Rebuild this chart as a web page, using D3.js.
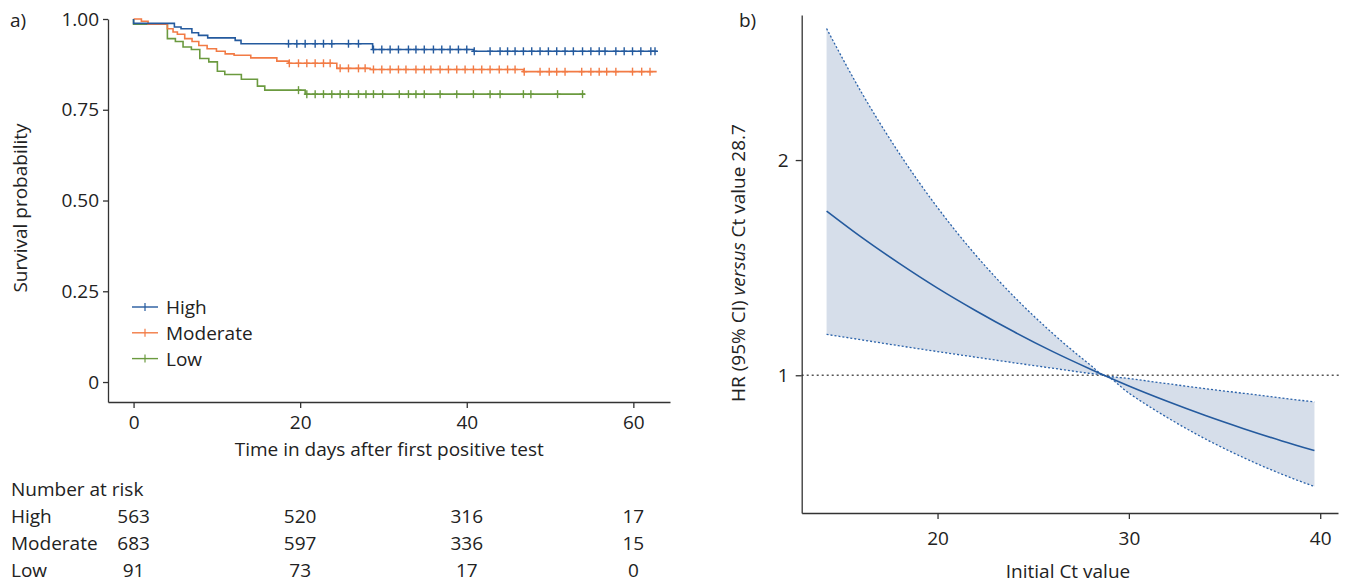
<!DOCTYPE html>
<html>
<head>
<meta charset="utf-8">
<script src="https://d3js.org/d3.v7.min.js"></script>
<style>
  body { margin: 0; background: #fff; }
  svg text { font-family: "Open Sans", "Noto Sans", sans-serif; fill: #222; }
</style>
</head>
<body>
<div id="chart"></div>
<script>
// a) Kaplan-Meier steps (time in days, survival after the step)
const highTimes = [0, 4.9, 5.7, 7.0, 7.8, 8.9, 12.2, 12.9, 28.7, 40.8];
const highSurv = [0.988, 0.978, 0.973, 0.962, 0.955, 0.948, 0.941, 0.932, 0.916, 0.911];
const highEnd = 62.9;
const highCensor = [18.6, 19.6, 20.6, 21.8, 22.8, 23.8, 25.8, 27.0, 28.8, 29.8, 30.8, 31.8, 33.0, 33.9,
  34.9, 36.0, 37.0, 38.0, 39.0, 40.0, 40.9, 42.8, 44.0, 44.9, 45.8, 46.8, 47.8, 48.8, 49.8, 50.8,
  51.8, 52.8, 53.9, 54.9, 55.9, 56.6, 57.9, 58.9, 59.9, 60.9, 62.1, 62.6];

const modTimes = [0.94, 1.74, 4.06, 4.74, 5.26, 6.14, 7.02, 7.83, 8.83, 9.95, 11.0, 12.07, 14.07, 17.2, 18.6, 24.4, 28.4, 46.8];
const modSurv = [0.994, 0.986, 0.973, 0.964, 0.958, 0.946, 0.938, 0.927, 0.918, 0.911, 0.904, 0.900, 0.893, 0.884, 0.878, 0.864, 0.861, 0.855];
const modEnd = 62.8;
const modCensor = [18.7, 19.8, 20.8, 21.8, 22.8, 23.6, 24.8, 25.8, 27.0, 27.8, 28.8, 29.8, 30.8, 31.8,
  32.7, 33.9, 34.9, 35.7, 36.8, 37.8, 38.8, 39.8, 40.8, 41.8, 42.8, 43.9, 44.9, 45.8, 46.9, 48.8,
  49.9, 50.8, 51.8, 53.8, 54.9, 55.9, 56.8, 57.9, 59.9, 61.0, 62.0];

const lowTimes = [0, 4.06, 5.02, 5.94, 6.94, 7.95, 9.03, 10.06, 10.95, 12.94, 14.87, 15.75, 20.6];
const lowSurv = [0.986, 0.946, 0.938, 0.923, 0.916, 0.891, 0.882, 0.856, 0.847, 0.834, 0.815, 0.804, 0.793];
const lowEnd = 54.2;
const lowCensor = [19.8, 20.8, 21.8, 22.8, 23.8, 24.8, 25.8, 27.0, 27.9, 28.8, 29.9, 31.9, 33.0, 33.9,
  34.9, 36.8, 38.8, 40.8, 42.8, 44.0, 46.8, 47.7, 50.9, 53.9];

const groupNames = ['High', 'Moderate', 'Low'];
const groupColors = ['#245a9e', '#f27b45', '#6b9a3f'];

// Number at risk table
const riskTimes = [0, 20, 40, 60];
const riskHigh = [563, 520, 316, 17];
const riskModerate = [683, 597, 336, 15];
const riskLow = [91, 73, 17, 0];

const survTicks = [0, 0.25, 0.5, 0.75, 1];
const dayTicks = [0, 20, 40, 60];

// b) HR versus Ct value 28.7
const ctValues = [14.2, 16, 18, 20, 22, 24, 26, 28, 28.7, 30, 32, 34, 36, 38, 39.7];
const hrFit = [1.763, 1.643, 1.520, 1.405, 1.300, 1.202, 1.111, 1.028, 1, 0.950, 0.879, 0.813, 0.752, 0.695, 0.650];
const hrUpper = [2.611, 2.318, 2.031, 1.779, 1.558, 1.365, 1.196, 1.047, 1, 0.985, 0.961, 0.938, 0.916, 0.894, 0.876];
const hrLower = [1.190, 1.165, 1.137, 1.110, 1.084, 1.058, 1.033, 1.008, 1, 0.917, 0.804, 0.704, 0.617, 0.540, 0.483];
const hrTicks = [1, 2];
const ctTicks = [20, 30, 40];

const W = 1346, H = 583;
const svg = d3.select('#chart').append('svg').attr('width', W).attr('height', H);

const fs = 19;
const fontFam = '"Open Sans", "Noto Sans", sans-serif';

// ---------- panel a ----------
const xA = d3.scaleLinear().domain([-3.07, 64.4]).range([108, 670]);
const yA = d3.scaleLinear().domain([-0.055, 1]).range([402, 19]);

svg.append('text').attr('x', 10).attr('y', 27).attr('font-size', fs).text('a)');

const axA_y = svg.append('g').attr('transform', 'translate(108,0)')
  .call(d3.axisLeft(yA).tickValues(survTicks).tickSize(5).tickSizeOuter(0).tickPadding(4)
    .tickFormat(d => d === 0 ? '0' : d3.format('.2f')(d)));
const axA_x = svg.append('g').attr('transform', 'translate(0,402)')
  .call(d3.axisBottom(xA).tickValues(dayTicks).tickSize(6).tickSizeOuter(0).tickPadding(8));

[axA_y, axA_x].forEach(ax => {
  ax.selectAll('path, line').attr('stroke', '#333').attr('stroke-width', 1.3);
  ax.selectAll('text').attr('font-size', fs).attr('font-family', fontFam).attr('fill', '#222');
});

svg.append('text')
  .attr('transform', `translate(27, 208) rotate(-90)`)
  .attr('text-anchor', 'middle').attr('font-size', fs)
  .text('Survival probability');

svg.append('text')
  .attr('x', xA(30.7)).attr('y', 456)
  .attr('text-anchor', 'middle').attr('font-size', fs)
  .text('Time in days after first positive test');

const series = [
  { times: highTimes, surv: highSurv, end: highEnd, censor: highCensor },
  { times: modTimes, surv: modSurv, end: modEnd, censor: modCensor },
  { times: lowTimes, surv: lowSurv, end: lowEnd, censor: lowCensor }
];

const survAt = (s, t) => {
  let v = 1;
  s.times.forEach((tt, i) => { if (tt <= t) v = s.surv[i]; });
  return v;
};

// draw low first so high ends on top
[2, 1, 0].forEach(i => {
  const s = series[i];
  let d = `M${xA(0)},${yA(1)}`;
  s.times.forEach((t, j) => {
    d += `H${xA(t)}V${yA(s.surv[j])}`;
  });
  d += `H${xA(s.end)}`;
  svg.append('path').attr('d', d).attr('fill', 'none')
    .attr('stroke', groupColors[i]).attr('stroke-width', 1.6);

  const g = svg.append('g').attr('stroke', groupColors[i]).attr('stroke-width', 1.4);
  g.selectAll('line.v').data(s.censor).enter().append('line')
    .attr('x1', t => xA(t)).attr('x2', t => xA(t))
    .attr('y1', t => yA(survAt(s, t)) - 4).attr('y2', t => yA(survAt(s, t)) + 4);
  g.selectAll('line.h').data(s.censor).enter().append('line')
    .attr('x1', t => xA(t) - 3).attr('x2', t => xA(t) + 3)
    .attr('y1', t => yA(survAt(s, t))).attr('y2', t => yA(survAt(s, t)));
});

// legend
const legend = svg.append('g').attr('transform', 'translate(132, 307)');
groupNames.forEach((name, i) => {
  const row = legend.append('g').attr('transform', `translate(0, ${i * 25.8})`);
  row.append('line').attr('x1', 0).attr('x2', 26).attr('y1', 0).attr('y2', 0)
    .attr('stroke', groupColors[i]).attr('stroke-width', 1.4);
  row.append('line').attr('x1', 13).attr('x2', 13).attr('y1', -4).attr('y2', 4)
    .attr('stroke', groupColors[i]).attr('stroke-width', 1.2);
  row.append('text').attr('x', 34).attr('y', 7).attr('font-size', fs).text(name);
});

// risk table
svg.append('text').attr('x', 11).attr('y', 496).attr('font-size', fs).text('Number at risk');
const riskRows = [riskHigh, riskModerate, riskLow];
riskRows.forEach((vals, i) => {
  const y = 523 + i * 27;
  svg.append('text').attr('x', 11).attr('y', y).attr('font-size', fs).text(groupNames[i]);
  vals.forEach((v, j) => {
    svg.append('text').attr('x', xA(riskTimes[j])).attr('y', y)
      .attr('text-anchor', 'middle').attr('font-size', fs).text(v);
  });
});

// ---------- panel b ----------
const xB = d3.scaleLinear().domain([12.9, 40.93]).range([801.7, 1338]);
const yB = d3.scaleLinear().domain([0.36, 2.674]).range([513, 15]);

svg.append('text').attr('x', 739).attr('y', 27).attr('font-size', fs).text('b)');

const pts = ctValues.map((c, i) => ({ c, fit: hrFit[i], lo: hrLower[i], hi: hrUpper[i] }));

const band = d3.area()
  .x(d => xB(d.c)).y0(d => yB(d.lo)).y1(d => yB(d.hi))
  .curve(d3.curveMonotoneX);
svg.append('path').datum(pts).attr('d', band).attr('fill', '#d6deea');

svg.append('line')
  .attr('x1', 801.7).attr('x2', 1340).attr('y1', yB(1)).attr('y2', yB(1))
  .attr('stroke', '#555').attr('stroke-width', 1.3).attr('stroke-dasharray', '2,3');

const lineOf = key => d3.line().x(d => xB(d.c)).y(d => yB(d[key])).curve(d3.curveMonotoneX);
['lo', 'hi'].forEach(k => {
  svg.append('path').datum(pts).attr('d', lineOf(k)).attr('fill', 'none')
    .attr('stroke', '#2a62aa').attr('stroke-width', 1.3).attr('stroke-dasharray', '2,2');
});
svg.append('path').datum(pts).attr('d', lineOf('fit')).attr('fill', 'none')
  .attr('stroke', '#245a9e').attr('stroke-width', 1.6);

const axB_y = svg.append('g').attr('transform', 'translate(801.7,0)')
  .call(d3.axisLeft(yB).tickValues(hrTicks).tickSize(6).tickSizeOuter(0).tickPadding(7).tickFormat(d3.format('d')));
const axB_x = svg.append('g').attr('transform', 'translate(0,513)')
  .call(d3.axisBottom(xB).tickValues(ctTicks).tickSize(6).tickSizeOuter(0).tickPadding(13));
[axB_y, axB_x].forEach(ax => {
  ax.selectAll('path, line').attr('stroke', '#333').attr('stroke-width', 1.3);
  ax.selectAll('text').attr('font-size', fs).attr('font-family', fontFam).attr('fill', '#222');
});

const yLab = svg.append('text')
  .attr('transform', 'translate(745, 263) rotate(-90)')
  .attr('text-anchor', 'middle').attr('font-size', fs);
yLab.append('tspan').text('HR (95% CI) ');
yLab.append('tspan').attr('font-style', 'italic').text('versus');
yLab.append('tspan').text(' Ct value 28.7');

svg.append('text')
  .attr('x', 1068).attr('y', 578)
  .attr('text-anchor', 'middle').attr('font-size', fs)
  .text('Initial Ct value');
</script>
</body>
</html>
